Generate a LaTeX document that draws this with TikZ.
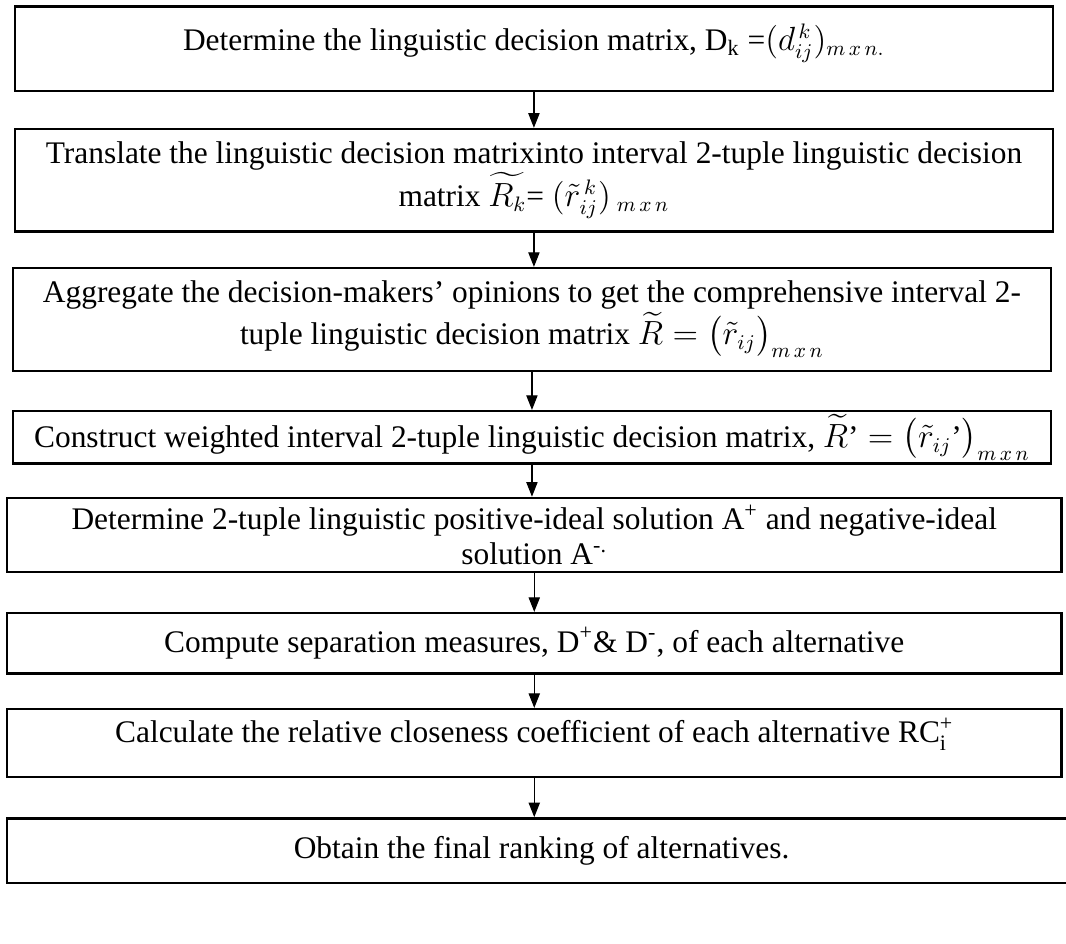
\documentclass[tikz,border=0pt]{standalone}
\usepackage{amsmath}
\usepackage{fontspec}
\setmainfont{Liberation Serif}
\usetikzlibrary{arrows.meta,positioning}
\tikzset{
  stepbox/.style={draw=black, line width=1pt, align=center, anchor=north west, inner sep=0pt, font=\fontsize{13.5}{15}\selectfont},
  arrow/.style={-{Triangle[length=2.2mm,width=1.7mm]}, line width=0.5pt, draw=black}
}

\begin{document}
\begin{tikzpicture}
  \useasboundingbox (0,0) rectangle (16.097,-14.254);
  \node[stepbox, minimum width=15.67cm, minimum height=1.28cm, text depth=0.36cm] (matrix) at (0.21,-0.08) {Determine the linguistic decision matrix, D\textsubscript{k} =$(d_{ij}^{\,k})_{m\,x\,n.}$};
  \node[stepbox, minimum width=15.67cm, minimum height=1.55cm] (translate) at (0.21,-1.93) {Translate the linguistic decision matrixinto interval 2-tuple linguistic decision\\ matrix $\widetilde{R_k}$= $(\tilde{r}_{ij}^{\,k})_{\;m\,x\,n}$};
  \node[stepbox, minimum width=15.67cm, minimum height=1.55cm] (aggregate) at (0.18,-4.03) {Aggregate the decision-makers’ opinions to get the comprehensive interval 2-\\ tuple linguistic decision matrix $\widetilde{R}=\bigl(\tilde{r}_{ij}\bigr)_{m\,x\,n}$};
  \node[stepbox, minimum width=15.67cm, minimum height=0.79cm] (weighted) at (0.18,-6.19) {Construct weighted interval 2-tuple linguistic decision matrix, $\widetilde{R}’=\bigl(\tilde{r}_{ij}{}’\bigr)_{m\,x\,n}$};
  \node[stepbox, minimum width=15.92cm, minimum height=1.12cm] (ideal) at (0.09,-7.5) {Determine 2-tuple linguistic positive-ideal solution A\textsuperscript{+} and negative-ideal\\ solution A\textsuperscript{-.}};
  \node[stepbox, minimum width=15.92cm, minimum height=0.91cm] (separation) at (0.09,-9.24) {Compute separation measures, D\textsuperscript{+}\& D\textsuperscript{-}, of each alternative};
  \node[stepbox, minimum width=15.92cm, minimum height=1.03cm, text depth=0.4cm] (closeness) at (0.09,-10.69) {Calculate the relative closeness coefficient of each alternative RC$_{\textrm{i}}^{\textrm{+}}$};
  \node[stepbox, minimum width=16.14cm, minimum height=0.98cm] (ranking) at (0.09,-12.34) {Obtain the final ranking of alternatives.};
  \draw[arrow] (matrix.south) -- (matrix.south |- translate.north);
  \draw[arrow] (translate.south) -- (translate.south |- aggregate.north);
  \draw[arrow] (aggregate.south) -- (aggregate.south |- weighted.north);
  \draw[arrow] (weighted.south) -- (weighted.south |- ideal.north);
  \draw[arrow] (ideal.south) -- (ideal.south |- separation.north);
  \draw[arrow] (separation.south) -- (separation.south |- closeness.north);
  \draw[arrow] (closeness.south) -- (closeness.south |- ranking.north);
\end{tikzpicture}
\end{document}
